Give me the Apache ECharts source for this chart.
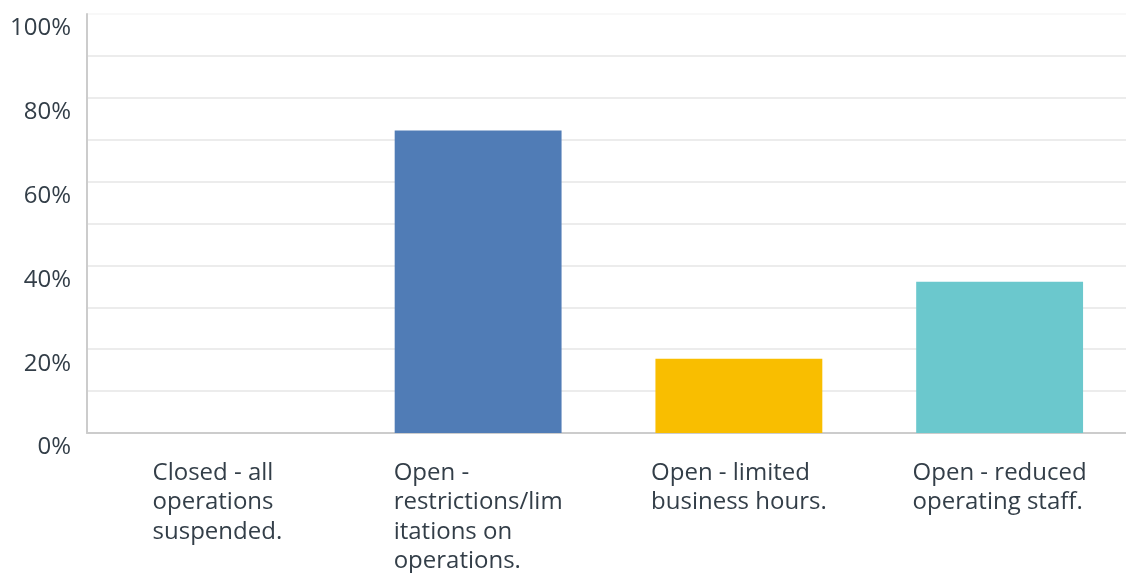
<!DOCTYPE html>
<html>
<head>
<meta charset="utf-8">
<script src="https://cdn.jsdelivr.net/npm/echarts@6/dist/echarts.min.js"></script>
<style>
html,body{margin:0;padding:0;background:#fff;}
#chart{width:1126px;height:573px;}
</style>
</head>
<body>
<div id="chart"></div>
<script>
var categories = [
  "Closed - all\noperations\nsuspended.",
  "Open -\nrestrictions/lim\nitations on\noperations.",
  "Open - limited\nbusiness hours.",
  "Open - reduced\noperating staff."
];
var values = [0, 72.2, 17.7, 36.1];
var barColors = ["#507cb6", "#507cb6", "#f9be00", "#6bc8cd"];
var yTicks = [0, 20, 40, 60, 80, 100];

var textColor = "#333e48";
var fontFam = "'Open Sans', sans-serif";

var chart = echarts.init(document.getElementById('chart'), null, {renderer: 'canvas'});
chart.setOption({
  animation: false,
  backgroundColor: '#ffffff',
  grid: {left: 87, top: 14, height: 419, width: 1043, containLabel: false, outerBoundsMode: 'none'},
  xAxis: {
    type: 'category',
    data: categories,
    axisLine: {show: true, lineStyle: {color: '#cccccc', width: 2}},
    axisTick: {show: false},
    splitLine: {show: false},
    axisLabel: {
      interval: 0,
      margin: 25,
      color: textColor,
      fontFamily: fontFam,
      fontSize: 24,
      lineHeight: 29.5,
      align: 'center',
      verticalAlign: 'top',
      formatter: function (v) {
        return v.split('\n').map(function (s) { return '{l|' + s + '}'; }).join('\n');
      },
      rich: {
        l: {align: 'left', color: textColor, fontFamily: fontFam, fontSize: 24, lineHeight: 29.5}
      }
    }
  },
  yAxis: {
    type: 'value',
    min: yTicks[0],
    max: yTicks[yTicks.length - 1],
    interval: 20,
    axisLine: {show: true, lineStyle: {color: '#cccccc', width: 2}},
    axisTick: {show: false},
    splitLine: {show: true, lineStyle: {color: ['#ececec', '#ececec', '#ececec', '#ececec', '#ececec', '#f8f8f8'], width: 2}},
    minorTick: {show: false, splitNumber: 2},
    minorSplitLine: {show: true, lineStyle: {color: '#ececec', width: 2}},
    axisLabel: {
      margin: 16,
      color: textColor,
      fontFamily: fontFam,
      fontSize: 24,
      lineHeight: 29,
      verticalAlign: 'top',
      formatter: '{value}%'
    }
  },
  series: [{
    type: 'bar',
    data: values.map(function (v, i) { return {value: v, itemStyle: {color: barColors[i]}}; }),
    barWidth: '64%',
    silent: true
  }]
});
</script>
</body>
</html>
